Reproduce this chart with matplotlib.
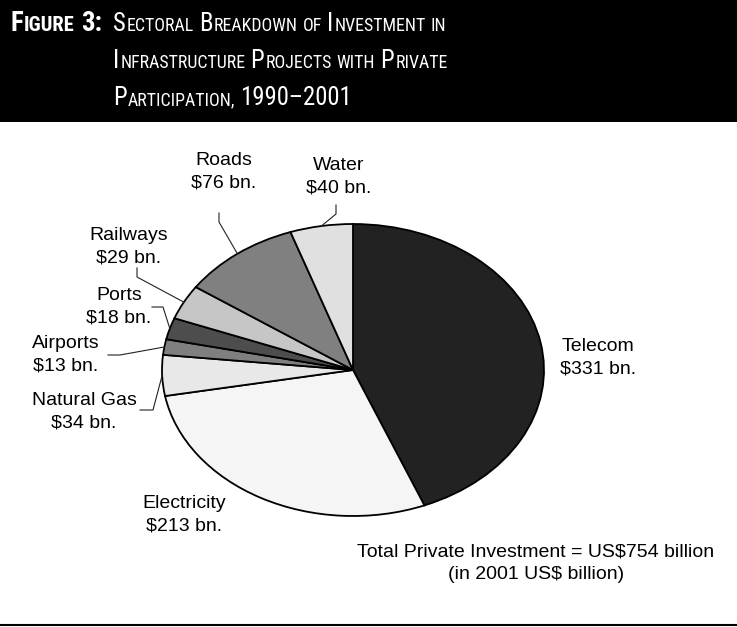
import matplotlib.pyplot as plt
import numpy as np
from matplotlib.patches import Rectangle
from matplotlib.lines import Line2D
from matplotlib import font_manager as fm

plt.rcParams['text.parse_math'] = False
plt.rcParams['font.family'] = ['Liberation Sans', 'DejaVu Sans']

W, H = 737, 627

# data (2001 US$ billion), clockwise from 12 o'clock
sectors = ['Telecom', 'Electricity', 'Natural Gas', 'Airports', 'Ports', 'Railways', 'Roads', 'Water']
invest = [331, 213, 34, 13, 18, 29, 76, 40]
colors = ['#222222', '#f5f5f5', '#e8e8e8', '#7f7f7f', '#4d4d4d', '#c6c6c6', '#808080', '#e0e0e0']

# label centres in pixels
label_pos = {
    'Telecom': (598, 358), 'Electricity': (184, 515), 'Natural Gas': (84, 412),
    'Airports': (66, 355), 'Ports': (119, 307), 'Railways': (129, 247),
    'Roads': (224, 172), 'Water': (339, 177),
}
# leader lines: elbow and end points in pixels
leaders = {
    'Water': [(336, 214), (336, 205)],
    'Roads': [(219, 222), (219, 213)],
    'Railways': [(137, 277), (137, 268)],
    'Ports': [(163, 307), (152, 307)],
    'Airports': [(120, 355), (108, 355)],
    'Natural Gas': [(153, 410), (140, 410)],
}


def px(x, y):
    return x / W, 1 - y / H


fig = plt.figure(figsize=(W / 100, H / 100), dpi=100)

# header band
fig.add_artist(Rectangle((0, 1 - 122 / H), 1, 122 / H, transform=fig.transFigure,
                         facecolor='black', edgecolor='none'))
fig.add_artist(Line2D([0, 1], [1 - 625 / H] * 2, transform=fig.transFigure,
                      color='black', linewidth=1.5))

renderer = fig.canvas.get_renderer()

# pick a narrow face for the title if one is installed
faces = {(f.name, f.stretch) for f in fm.fontManager.ttflist}
title_kw = dict(family=['Liberation Sans', 'DejaVu Sans'])
for name in ['Liberation Sans Narrow', 'Roboto Condensed', 'Open Sans Condensed']:
    if any(n == name for n, s in faces):
        title_kw = dict(family=[name, 'DejaVu Sans'])
        break
else:
    if ('DejaVu Sans', 'condensed') in faces:
        title_kw = dict(family=['DejaVu Sans'], stretch='condensed')


def small_caps(x, y, text, big, small, weight='normal', draw=True):
    arts = []

    def put(x, s, size):
        t = fig.text(*px(x, y), s, fontsize=size, fontweight=weight, color='white',
                     va='baseline', ha='left', **title_kw)
        arts.append(t)
        return t.get_window_extent(renderer).width

    space = put(0, 'x x', small) - put(0, 'xx', small)
    for a in arts:
        a.remove()
    arts.clear()
    for word in text.split(' '):
        runs = []
        for c in word:
            is_big = c.isupper() or c.isdigit() or c in ':–'
            if runs and runs[-1][1] == is_big:
                runs[-1][0] += c.upper()
            else:
                runs.append([c.upper(), is_big])
        for s, is_big in runs:
            x += put(x, s, big if is_big else small) + 0.08 * small
        x += space
    if not draw:
        for a in arts:
            a.remove()
    return x - space


# fit the title widths to the reference
k1 = (103 - 10) / (small_caps(10, 31, 'Figure 3:', 21.5, 16.5, 'bold', draw=False) - 10)
k2 = (445 - 113) / (small_caps(113, 31, 'Sectoral Breakdown of Investment in', 18, 13, draw=False) - 113)
k1, k2 = min(k1, 1.0), min(k2, 1.0)
small_caps(10, 31, 'Figure 3:', 21.5 * k1, 16.5 * k1, 'bold')
small_caps(113, 31, 'Sectoral Breakdown of Investment in', 18 * k2, 13 * k2)
small_caps(113, 68, 'Infrastructure Projects with Private', 18 * k2, 13 * k2)
small_caps(113, 105, 'Participation, 1990–2001', 18 * k2, 13 * k2)

# pie, stretched into an ellipse
cx, cy, rx, ry = 353, 370, 191, 146
ax = fig.add_axes([(cx - rx) / W, 1 - (cy + ry) / H, 2 * rx / W, 2 * ry / H])
wedges, _ = ax.pie(invest, colors=colors, startangle=90, counterclock=False,
                   wedgeprops=dict(edgecolor='black', linewidth=1.3))
for w in wedges:
    w.set_clip_on(False)
ax.set_aspect('auto')
ax.set_xlim(-1, 1)
ax.set_ylim(-1, 1)
ax.axis('off')

to_fig = fig.transFigure.inverted()
for name, v, w in zip(sectors, invest, wedges):
    lx, ly = label_pos[name]
    fig.text(*px(lx, ly), f'{name}\n${v} bn.', fontsize=14, ha='center', va='center',
             linespacing=1.4, color='black')
    if name in leaders:
        mid = np.deg2rad((w.theta1 + w.theta2) / 2)
        a = to_fig.transform(ax.transData.transform((np.cos(mid), np.sin(mid))))
        pts = [a] + [px(*p) for p in leaders[name]]
        xs, ys = zip(*pts)
        fig.add_artist(Line2D(xs, ys, transform=fig.transFigure, color='#222222', linewidth=0.8))

fig.text(*px(536, 563), 'Total Private Investment = US$754 billion\n(in 2001 US$ billion)',
         fontsize=14, ha='center', va='center', linespacing=1.4)

fig.savefig('out.png', dpi=100)
